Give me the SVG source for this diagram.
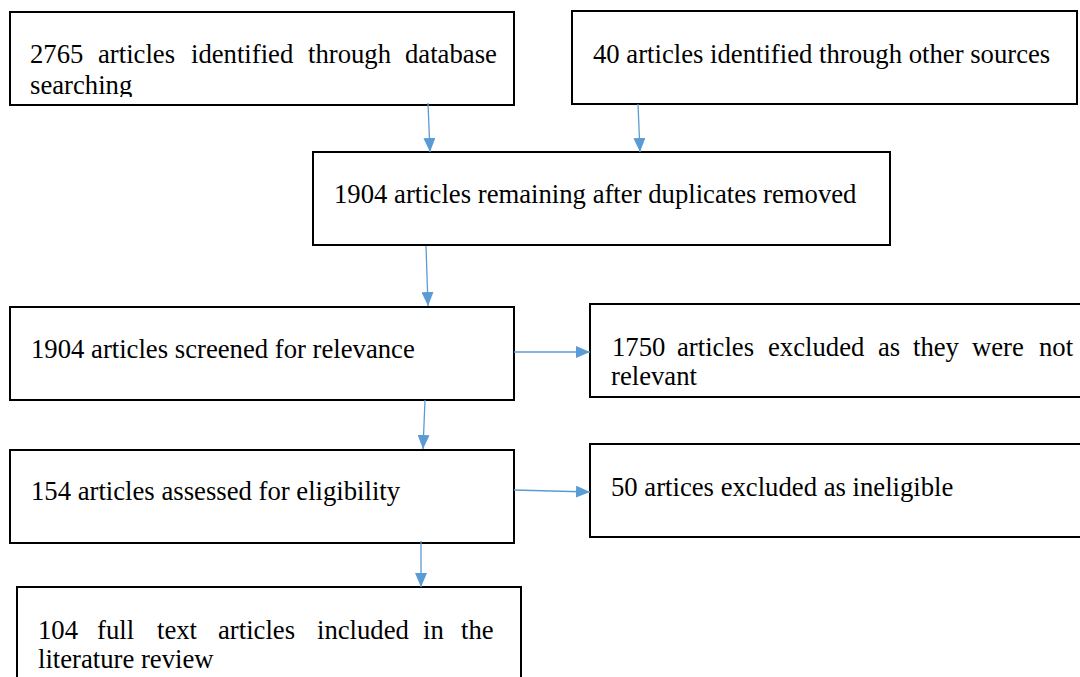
<svg xmlns="http://www.w3.org/2000/svg" width="1080" height="677" viewBox="0 0 1080 677">
<style>
.box{fill:#fff;stroke:#000;stroke-width:2}
.t{font-family:'Liberation Serif','Times New Roman',serif;font-size:26.7px;fill:#000}
.c{stroke:#5B9BD5;stroke-width:1.3;fill:none}
</style>
<defs>
<marker id="ah" viewBox="0 0 14 12" refX="14" refY="6" markerWidth="14" markerHeight="12" markerUnits="userSpaceOnUse" orient="auto">
<path d="M0,0 L14,6 L0,12 Z" fill="#5B9BD5"/>
</marker>
<clipPath id="cl1"><rect x="10" y="12" width="504" height="85"/></clipPath>
</defs>
<g id="n1">
<rect class="box" x="10" y="12" width="504" height="93"/>
<g clip-path="url(#cl1)">
<text class="t" y="63"><tspan x="30">2765</tspan><tspan x="98">articles</tspan><tspan x="191">identified</tspan><tspan x="308">through</tspan><tspan x="405">database</tspan></text>
<text class="t" x="30" y="94">searching</text>
</g>
</g>
<g id="n2">
<rect class="box" x="572" y="11" width="505" height="93"/>
<text class="t" x="593" y="63">40 articles identified through other sources</text>
</g>
<g id="n3">
<rect class="box" x="313" y="152" width="577" height="93"/>
<text class="t" x="334" y="203">1904 articles remaining after duplicates removed</text>
</g>
<g id="n4">
<rect class="box" x="10" y="307" width="504" height="93"/>
<text class="t" x="31" y="358">1904 articles screened for relevance</text>
</g>
<g id="n5">
<rect class="box" x="590" y="304" width="495" height="93"/>
<text class="t" y="356"><tspan x="612">1750</tspan><tspan x="677">articles</tspan><tspan x="768">excluded</tspan><tspan x="878">as</tspan><tspan x="913">they</tspan><tspan x="972">were</tspan><tspan x="1039">not</tspan></text>
<text class="t" x="611" y="385">relevant</text>
</g>
<g id="n6">
<rect class="box" x="10" y="450" width="504" height="93"/>
<text class="t" x="31" y="500">154 articles assessed for eligibility</text>
</g>
<g id="n7">
<rect class="box" x="590" y="444" width="495" height="93"/>
<text class="t" x="611" y="496">50 artices excluded as ineligible</text>
</g>
<g id="n8">
<rect class="box" x="17" y="587" width="504" height="100"/>
<text class="t" y="639"><tspan x="38">104</tspan><tspan x="97">full</tspan><tspan x="157">text</tspan><tspan x="218">articles</tspan><tspan x="317">included</tspan><tspan x="423">in</tspan><tspan x="461">the</tspan></text>
<text class="t" x="38" y="668">literature review</text>
</g>
<g id="connectors">
<line class="c" x1="428" y1="103" x2="430" y2="152" marker-end="url(#ah)"/>
<line class="c" x1="638" y1="104" x2="640" y2="152" marker-end="url(#ah)"/>
<line class="c" x1="426" y1="246" x2="428" y2="306" marker-end="url(#ah)"/>
<line class="c" x1="514" y1="352" x2="590" y2="352" marker-end="url(#ah)"/>
<line class="c" x1="425" y1="400" x2="423" y2="449" marker-end="url(#ah)"/>
<line class="c" x1="514" y1="490" x2="590" y2="492" marker-end="url(#ah)"/>
<line class="c" x1="421" y1="541" x2="421" y2="587" marker-end="url(#ah)"/>
</g>
</svg>
